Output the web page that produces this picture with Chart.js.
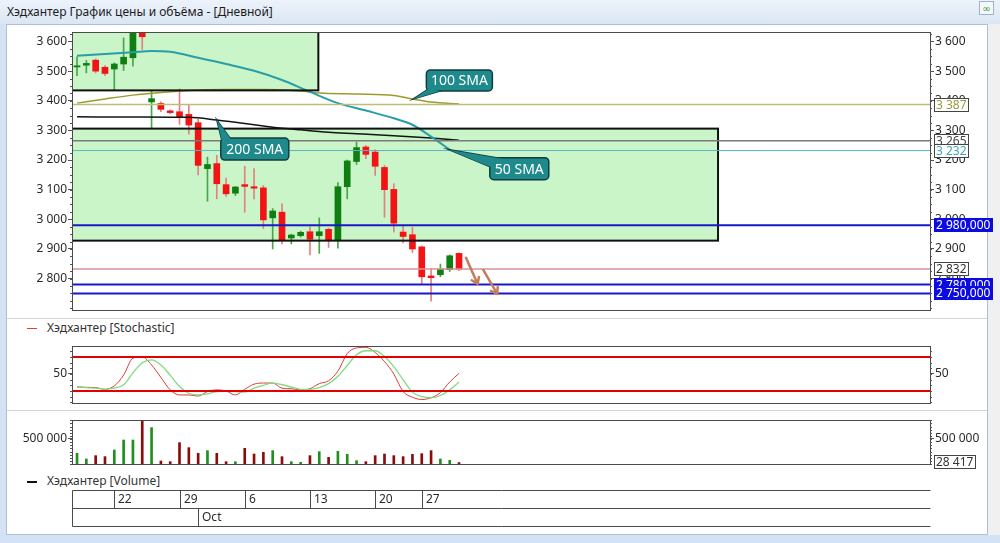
<!DOCTYPE html>
<html lang="ru">
<head>
  <meta charset="UTF-8">
  <title>Хэдхантер График цены и объёма</title>
  <script src="https://cdn.jsdelivr.net/npm/chart.js"></script>
  <style>
    body {
      margin: 0;
      width: 1000px;
      height: 543px;
      position: relative;
      overflow: hidden;
      background: #d3e2f4;
      font-family: "Noto Sans", "DejaVu Sans", sans-serif;
    }
    .titlebar {
      position: absolute; left: 0; top: 0; width: 1000px; height: 24px;
      background: linear-gradient(#edf3fb, #dbe6f3);
      font-size: 12px; line-height: 24px; color: #1b1b1b;
      padding-left: 7px; box-sizing: border-box;
    }
    .icon {
      position: absolute; left: 979px; top: 1px; width: 15px; height: 14px;
      border: 1px solid #9fb3c8; background: #f4f8fc; box-sizing: border-box;
      color: #2f9a2f; font-size: 10px; line-height: 12px; text-align: center;
    }
    .pane {
      position: absolute; left: 6px; top: 24px; width: 982px; height: 511px;
      background: #fff; border: 1px solid #aebfd4; box-sizing: border-box;
    }
    .strip { position: absolute; left: 988px; top: 24px; width: 12px; height: 511px; background: #f0f0f0; }
    .sep { position: absolute; left: 7px; width: 980px; height: 1px; background: #d4d4d4; }
    .legend { position: absolute; left: 27px; font-size: 12px; color: #333; line-height: 16px; }
    .legend i { display: inline-block; width: 10px; vertical-align: middle; margin-right: 10px; }
    canvas { position: absolute; left: 0; }
  </style>
</head>
<body>

<div class="titlebar">Хэдхантер График цены и объёма - [Дневной]</div>
<div class="icon">&#8734;</div>
<div class="pane"></div>
<div class="strip"></div>
<div class="sep" style="top:318px"></div>
<div class="sep" style="top:410px"></div>
<div class="legend" style="top:320px"><i style="height:1px;background:#e03a3a"></i>Хэдхантер [Stochastic]</div>
<div class="legend" style="top:473px"><i style="height:2px;background:#111"></i>Хэдхантер [Volume]</div>

<canvas id="priceChart" width="1000" height="302" style="top:20px"></canvas>
<canvas id="stochChart" width="1000" height="81" style="top:334px"></canvas>
<canvas id="volumeChart" width="1000" height="127" style="top:408px"></canvas>

<script>
  // daily candles, one per calendar day, index 0..41
  const opens  = [3514, 3520, 3537, 3513, 3507, 3524, 3545, 3660, 3396, 3391, 3366, 3363, 3354, 3326, 3171, 3188, 3117, 3088, 3117, 3110, 3106,
                  3005, 3024, 2937, 2945, 2958, 2945, 2966, 2930, 3110, 3195, 3244, 3227, 3175, 3101, 2957, 2948, 2907, 2809, 2813, 2830, 2885];
  const closes = [3518, 3526, 3500, 3492, 3524, 3547, 3700, 3616, 3407, 3371, 3360, 3346, 3318, 3182, 3185, 3120, 3086, 3109, 3111, 3105, 2998,
                  3028, 2928, 2947, 2956, 2933, 2958, 2930, 3110, 3197, 3242, 3219, 3179, 3100, 2987, 2942, 2900, 2806, 2803, 2832, 2877, 2832];
  const highs  = [3548, 3536, 3541, 3519, 3528, 3612, 3720, 3680, 3432, 3396, 3369, 3440, 3385, 3337, 3210, 3216, 3139, 3111, 3179, 3171, 3114,
                  3036, 3052, 2950, 2960, 2975, 3005, 2970, 3124, 3200, 3261, 3250, 3235, 3182, 3120, 2979, 2973, 2910, 2835, 2849, 2880, 2887];
  const lows   = [3485, 3494, 3494, 3485, 3434, 3502, 3517, 3573, 3306, 3363, 3357, 3320, 3287, 3150, 3061, 3069, 3077, 3080, 3024, 3069, 2969,
                  2900, 2917, 2917, 2940, 2880, 2885, 2905, 2903, 3069, 3185, 3205, 3148, 3007, 2957, 2920, 2888, 2781, 2724, 2806, 2824, 2827];
  const volumes = [213000, 100000, 167000, 147000, 280000, 480000, 480000, 860000, 727000, 60000, 47000, 427000, 327000, 213000, 267000,
                   213000, 47000, 47000, 313000, 200000, 233000, 267000, 147000, 47000, 33000, 167000, 247000, 133000, 253000, 193000,
                   67000, 47000, 167000, 200000, 167000, 147000, 193000, 207000, 267000, 100000, 73000, 28417];

  // moving averages (read at selected days)
  const sma50Idx  = [0, 3, 6, 8, 10, 13, 16, 19, 22, 25, 28, 31, 34, 36, 38, 40];
  const sma50     = [3552, 3558, 3564, 3568, 3565, 3545, 3524, 3501, 3470, 3430, 3392, 3367, 3341, 3319, 3279, 3235];
  const sma100Idx = [0, 3, 6, 9, 12, 16, 20, 24, 26, 30, 34, 36, 38, 41];
  const sma100    = [3392, 3406, 3419, 3428, 3435, 3438, 3438, 3433, 3426, 3423, 3418, 3406, 3396, 3389];
  const sma200Idx = [0, 6, 12, 15, 18, 21, 24, 27, 30, 34, 38, 41];
  const sma200    = [3346, 3345, 3344, 3335, 3323, 3311, 3302, 3294, 3289, 3282, 3274, 3267];

  // stochastic %K / %D
  const stochK = [27, 26.5, 26, 23, 29, 48, 78, 80, 66, 44, 22, 13, 13, 11, 19, 22, 20, 13, 23, 32, 34,
                  34, 25, 24, 22, 24, 33, 38, 55, 86, 96, 97, 88, 72, 50, 19, 9, 5, 8, 17, 36, 51];
  const stochD = [28, 26, 25, 23, 25, 31, 52, 70, 75, 66, 48, 28, 16, 13, 15, 19, 20, 19, 18, 25, 30,
                  34, 31, 27, 23, 23, 26, 33, 46, 65, 84, 91, 91, 81, 63, 40, 18, 10, 8, 12, 22, 36];
  const stochLevels = [80, 20];

  // horizontal levels on the price panel
  const levelValues   = [3387, 3265, 3232, 2980, 2832, 2780, 2750];
  const levelDecimals = [0, 0, 0, 3, 0, 3, 3];

  // shaded zones: from the left edge to zoneEnd (day index), between zoneLow and zoneHigh
  const zoneEnd  = [25.9, 68.8];
  const zoneLow  = [3435, 2928];
  const zoneHigh = [3700, 3306];

  // callouts on the moving averages
  const calloutText  = ['200 SMA', '100 SMA', '50 SMA'];
  const calloutIdx   = [15, 36.1, 39.9];
  const calloutPrice = [3335, 3406, 3235];

  // hand drawn arrows: start/end (day index, price)
  const arrowFrom = [[41.75, 2870], [43.6, 2829]];
  const arrowTo   = [[43.0, 2782], [45.1, 2748]];

  // ticks
  const priceTicks  = [2800, 2900, 3000, 3100, 3200, 3300, 3400, 3500, 3600];
  const stochTicks  = [50];
  const volumeTicks = [500000];
  const dayLabels   = ['22', '29', '6', '13', '20', '27'];
  const dayLabelIdx = [4, 11, 18, 25, 32, 37];
  const monthLabels   = ['Oct'];
  const monthLabelIdx = [13];

  const fmt = v => Math.round(v).toString().replace(/\B(?=(\d{3})+(?!\d))/g, ' ');
  const FONT = '"Noto Sans", "DejaVu Sans", sans-serif';
  Chart.defaults.font.family = FONT;
  Chart.defaults.font.size = 12;
  Chart.defaults.color = '#2a2a2a';

  const UP_BODY = '#0f7f12', DOWN_BODY = '#f21414';
  const UP_WICK = '#4aa54a', DOWN_WICK = '#e58080';
  const isUp = opens.map((o, i) => closes[i] >= o);

  const xScale = { type: 'linear', min: -0.54, max: 91.55, offset: false, display: false };

  function yAxis(position, min, max, tickValues, width, callback) {
    return {
      position: position, min: min, max: max,
      afterFit: s => { s.width = width; },
      afterBuildTicks: s => { s.ticks = tickValues.map(v => ({ value: v })); },
      ticks: { callback: callback || (v => fmt(v)), padding: 1, font: { size: 12 } },
      grid: { drawOnChartArea: false, tickLength: 4, color: '#555' },
      border: { display: false }
    };
  }

  function minorTicks(chart, step) {
    const { ctx, chartArea: a } = chart;
    const s = chart.scales.y;
    ctx.save();
    ctx.strokeStyle = '#555';
    ctx.lineWidth = 1;
    ctx.beginPath();
    for (let v = Math.ceil(s.min / step) * step; v <= s.max; v += step) {
      const py = Math.round(s.getPixelForValue(v)) + 0.5;
      ctx.moveTo(a.left - 2, py); ctx.lineTo(a.left, py);
      ctx.moveTo(a.right, py); ctx.lineTo(a.right + 2, py);
    }
    ctx.stroke();
    ctx.restore();
  }

  function frame(chart) {
    const { ctx, chartArea: a } = chart;
    ctx.save();
    ctx.strokeStyle = '#4a4a4a';
    ctx.lineWidth = 1;
    ctx.strokeRect(Math.round(a.left) + 0.5, Math.round(a.top) + 0.5, Math.round(a.right - a.left), Math.round(a.bottom - a.top));
    ctx.restore();
  }

  function valueBox(chart, py, text, fg, bg, border) {
    const { ctx, chartArea: a } = chart;
    ctx.save();
    ctx.font = '12px ' + FONT;
    const w = Math.ceil(ctx.measureText(text).width) + 4, h = 14;
    const x0 = Math.round(a.right) + 4, y0 = Math.round(py - h / 2);
    ctx.fillStyle = bg;
    ctx.fillRect(x0, y0, w, h);
    if (border) {
      ctx.strokeStyle = border;
      ctx.lineWidth = 1;
      ctx.strokeRect(x0 + 0.5, y0 + 0.5, w - 1, h - 1);
    }
    ctx.fillStyle = fg;
    ctx.textBaseline = 'middle';
    ctx.fillText(text, x0 + 2, y0 + h / 2 + 0.5);
    ctx.restore();
  }

  // pixel offsets of the callout boxes from their anchor point
  const calloutBox = [
    { dx: 4, dy: 18, w: 68, h: 22, tail: [[1, 2], [10, 1]] },
    { dx: 13, dy: -29, w: 66, h: 21, tail: [[2, 19], [14, 21]] },
    { dx: 41, dy: 8, w: 59, h: 22, tail: [[0, 9], [12, 1]] }
  ];

  const levelStyle = [
    { color: '#bdbd78', width: 1.5, fg: '#9a9a3c', bg: '#fff', border: '#444' },
    { color: '#7a7a7a', width: 1.5, fg: '#444', bg: '#fff', border: '#444' },
    { color: '#5ab6c0', width: 1, fg: '#3aa7b4', bg: '#fff', border: '#444' },
    { color: '#1818c8', width: 2, fg: '#fff', bg: '#0c0ce0', border: null },
    { color: '#d69494', width: 1.5, fg: '#333', bg: '#fff', border: '#444' },
    { color: '#1818c8', width: 2, fg: '#fff', bg: '#0c0ce0', border: null },
    { color: '#1818c8', width: 2, fg: '#fff', bg: '#0c0ce0', border: null }
  ];

  const priceDecor = {
    id: 'priceDecor',
    beforeDatasetsDraw(chart) {
      const { ctx, chartArea: a, scales: { x, y } } = chart;
      ctx.save();
      ctx.beginPath(); ctx.rect(a.left, a.top, a.right - a.left, a.bottom - a.top); ctx.clip();
      ctx.fillStyle = '#c9f5c9';
      zoneEnd.forEach((end, k) => {
        const x1 = x.getPixelForValue(end), y0 = y.getPixelForValue(zoneHigh[k]), y1 = y.getPixelForValue(zoneLow[k]);
        ctx.fillRect(a.left, y0, x1 - a.left, y1 - y0);
      });
      ctx.restore();
    },
    afterDatasetsDraw(chart) {
      const { ctx, chartArea: a, scales: { x, y } } = chart;
      ctx.save();
      ctx.beginPath(); ctx.rect(a.left, a.top, a.right - a.left, a.bottom - a.top); ctx.clip();
      ctx.strokeStyle = '#111';
      ctx.lineWidth = 2;
      zoneEnd.forEach((end, k) => {
        const x1 = x.getPixelForValue(end), y0 = y.getPixelForValue(zoneHigh[k]), y1 = y.getPixelForValue(zoneLow[k]);
        ctx.strokeRect(a.left, y0, x1 - a.left, y1 - y0);
      });
      levelValues.forEach((v, k) => {
        const py = y.getPixelForValue(v);
        ctx.strokeStyle = levelStyle[k].color;
        ctx.lineWidth = levelStyle[k].width;
        ctx.beginPath(); ctx.moveTo(a.left, py); ctx.lineTo(a.right, py); ctx.stroke();
      });
      ctx.restore();
    },
    afterDraw(chart) {
      const { ctx, scales: { x, y } } = chart;
      frame(chart);
      minorTicks(chart, 25);

      levelValues.forEach((v, k) => {
        const st = levelStyle[k];
        const txt = fmt(v) + (levelDecimals[k] ? ',' + '0'.repeat(levelDecimals[k]) : '');
        valueBox(chart, y.getPixelForValue(v), txt, st.fg, st.bg, st.border);
      });

      // callouts
      calloutText.forEach((t, k) => {
        const ax = x.getPixelForValue(calloutIdx[k]), ay = y.getPixelForValue(calloutPrice[k]);
        const b = calloutBox[k];
        const bx = ax + b.dx, by = ay + b.dy;
        ctx.save();
        ctx.fillStyle = '#1f8a8c';
        ctx.strokeStyle = '#143c3e';
        ctx.lineWidth = 1.5;
        ctx.beginPath();
        ctx.moveTo(ax, ay);
        ctx.lineTo(bx + b.tail[0][0], by + b.tail[0][1]);
        ctx.lineTo(bx + b.tail[1][0], by + b.tail[1][1]);
        ctx.closePath();
        ctx.fill(); ctx.stroke();
        ctx.beginPath();
        ctx.roundRect(bx, by, b.w, b.h, 4);
        ctx.fill(); ctx.stroke();
        ctx.beginPath();
        ctx.moveTo(ax, ay);
        ctx.lineTo(bx + b.tail[0][0], by + b.tail[0][1]);
        ctx.lineTo(bx + b.tail[1][0], by + b.tail[1][1]);
        ctx.closePath();
        ctx.fill();
        ctx.fillStyle = '#fff';
        ctx.font = '14px ' + FONT;
        ctx.textAlign = 'center';
        ctx.textBaseline = 'middle';
        ctx.fillText(t, bx + b.w / 2, by + b.h / 2 + 1);
        ctx.restore();
      });

      // arrows
      ctx.save();
      ctx.strokeStyle = '#c27d5c';
      ctx.lineWidth = 2.5;
      ctx.lineCap = 'round';
      arrowFrom.forEach((f, k) => {
        const x0 = x.getPixelForValue(f[0]), y0 = y.getPixelForValue(f[1]);
        const x1 = x.getPixelForValue(arrowTo[k][0]), y1 = y.getPixelForValue(arrowTo[k][1]);
        const ang = Math.atan2(y1 - y0, x1 - x0);
        ctx.beginPath();
        ctx.moveTo(x0, y0); ctx.lineTo(x1, y1);
        ctx.moveTo(x1, y1); ctx.lineTo(x1 - 7 * Math.cos(ang - 0.6), y1 - 7 * Math.sin(ang - 0.6));
        ctx.moveTo(x1, y1); ctx.lineTo(x1 - 7 * Math.cos(ang + 0.6), y1 - 7 * Math.sin(ang + 0.6));
        ctx.stroke();
      });
      ctx.restore();
    }
  };

  const stochDecor = {
    id: 'stochDecor',
    afterDatasetsDraw(chart) {
      const { ctx, chartArea: a, scales: { y } } = chart;
      ctx.save();
      ctx.strokeStyle = '#e40000';
      ctx.lineWidth = 2;
      stochLevels.forEach(v => {
        const py = y.getPixelForValue(v);
        ctx.beginPath(); ctx.moveTo(a.left, py); ctx.lineTo(a.right, py); ctx.stroke();
      });
      ctx.restore();
    },
    afterDraw(chart) {
      frame(chart);
      minorTicks(chart, 10);
    }
  };

  const volumeDecor = {
    id: 'volumeDecor',
    afterDraw(chart) {
      const { ctx, chartArea: a, scales: { x, y } } = chart;
      frame(chart);
      minorTicks(chart, 62500);
      valueBox(chart, y.getPixelForValue(volumes[volumes.length - 1]) - 1, fmt(volumes[volumes.length - 1]), '#333', '#fff', '#444');

      // date axis cells
      const top1 = Math.round(a.bottom) + 26.5, top2 = top1 + 18, bot = top2 + 18;
      const left = Math.round(a.left) + 0.5, right = Math.round(a.right) + 0.5;
      ctx.save();
      ctx.strokeStyle = '#4a4a4a';
      ctx.lineWidth = 1;
      ctx.beginPath();
      [top1, top2, bot].forEach(yy => { ctx.moveTo(left, yy); ctx.lineTo(right, yy); });
      ctx.moveTo(left, top1); ctx.lineTo(left, bot);
      dayLabelIdx.forEach(i => {
        const px = Math.round(x.getPixelForValue(i)) + 0.5;
        ctx.moveTo(px, top1); ctx.lineTo(px, top2);
      });
      monthLabelIdx.forEach(i => {
        const px = Math.round(x.getPixelForValue(i)) + 0.5;
        ctx.moveTo(px, top2); ctx.lineTo(px, bot);
      });
      ctx.stroke();
      ctx.fillStyle = '#2a2a2a';
      ctx.font = '12px ' + FONT;
      ctx.textBaseline = 'middle';
      dayLabels.forEach((t, k) => ctx.fillText(t, Math.round(x.getPixelForValue(dayLabelIdx[k])) + 4, top1 + 9.5));
      monthLabels.forEach((t, k) => ctx.fillText(t, Math.round(x.getPixelForValue(monthLabelIdx[k])) + 4, top2 + 9.5));
      ctx.restore();
    }
  };

  const common = {
    responsive: false,
    animation: false,
    events: [],
    plugins: { legend: { display: false }, tooltip: { enabled: false } }
  };

  new Chart(document.getElementById('priceChart').getContext('2d'), {
    type: 'bar',
    data: {
      datasets: [
        {
          type: 'bar', label: 'wicks', order: 3, grouped: false, clip: 0, barThickness: 1,
          data: highs.map((h, i) => ({ x: i, y: [lows[i], h] })),
          backgroundColor: isUp.map(u => u ? UP_WICK : DOWN_WICK)
        },
        {
          type: 'bar', label: 'bodies', order: 2, grouped: false, clip: 0, barThickness: 6,
          data: opens.map((o, i) => ({ x: i, y: [o, closes[i]] })),
          backgroundColor: isUp.map(u => u ? UP_BODY : DOWN_BODY)
        },
        {
          type: 'line', label: '100 SMA', order: 1, clip: 0,
          data: sma100Idx.map((i, k) => ({ x: i, y: sma100[k] })),
          borderColor: '#9c9c2e', borderWidth: 1.5, pointRadius: 0, cubicInterpolationMode: 'monotone'
        },
        {
          type: 'line', label: '200 SMA', order: 1, clip: 0,
          data: sma200Idx.map((i, k) => ({ x: i, y: sma200[k] })),
          borderColor: '#141414', borderWidth: 1.5, pointRadius: 0, cubicInterpolationMode: 'monotone'
        },
        {
          type: 'line', label: '50 SMA', order: 0, clip: 0,
          data: sma50Idx.map((i, k) => ({ x: i, y: sma50[k] })),
          borderColor: '#2a9ea8', borderWidth: 2, pointRadius: 0, cubicInterpolationMode: 'monotone'
        }
      ]
    },
    options: Object.assign({}, common, {
      layout: { padding: { top: 12, bottom: 12, left: 0, right: 0 } },
      scales: {
        x: xScale,
        y: yAxis('left', 2694, 3632, priceTicks, 72),
        y2: yAxis('right', 2694, 3632, priceTicks, 70)
      }
    }),
    plugins: [priceDecor]
  });

  new Chart(document.getElementById('stochChart').getContext('2d'), {
    type: 'line',
    data: {
      datasets: [
        {
          label: '%D', data: stochD.map((v, i) => ({ x: i, y: v })), clip: 0,
          borderColor: '#7ddc7d', borderWidth: 1.3, pointRadius: 0, cubicInterpolationMode: 'monotone'
        },
        {
          label: '%K', data: stochK.map((v, i) => ({ x: i, y: v })), clip: 0,
          borderColor: '#e03a3a', borderWidth: 1, pointRadius: 0, cubicInterpolationMode: 'monotone'
        }
      ]
    },
    options: Object.assign({}, common, {
      layout: { padding: { top: 12, bottom: 12, left: 0, right: 0 } },
      scales: {
        x: xScale,
        y: yAxis('left', -1.2, 99.4, stochTicks, 72),
        y2: yAxis('right', -1.2, 99.4, stochTicks, 70)
      }
    }),
    plugins: [stochDecor]
  });

  new Chart(document.getElementById('volumeChart').getContext('2d'), {
    type: 'bar',
    data: {
      datasets: [{
        label: 'Volume', grouped: false, clip: 0, barThickness: 2,
        data: volumes.map((v, i) => ({ x: i, y: v })),
        backgroundColor: isUp.map(u => u ? '#1f8f1f' : '#8a0d0d')
      }]
    },
    options: Object.assign({}, common, {
      layout: { padding: { top: 12, bottom: 71, left: 0, right: 0 } },
      scales: {
        x: xScale,
        y: yAxis('left', 0, 880000, volumeTicks, 72),
        y2: yAxis('right', 0, 880000, volumeTicks, 70)
      }
    }),
    plugins: [volumeDecor]
  });
</script>

</body>
</html>
